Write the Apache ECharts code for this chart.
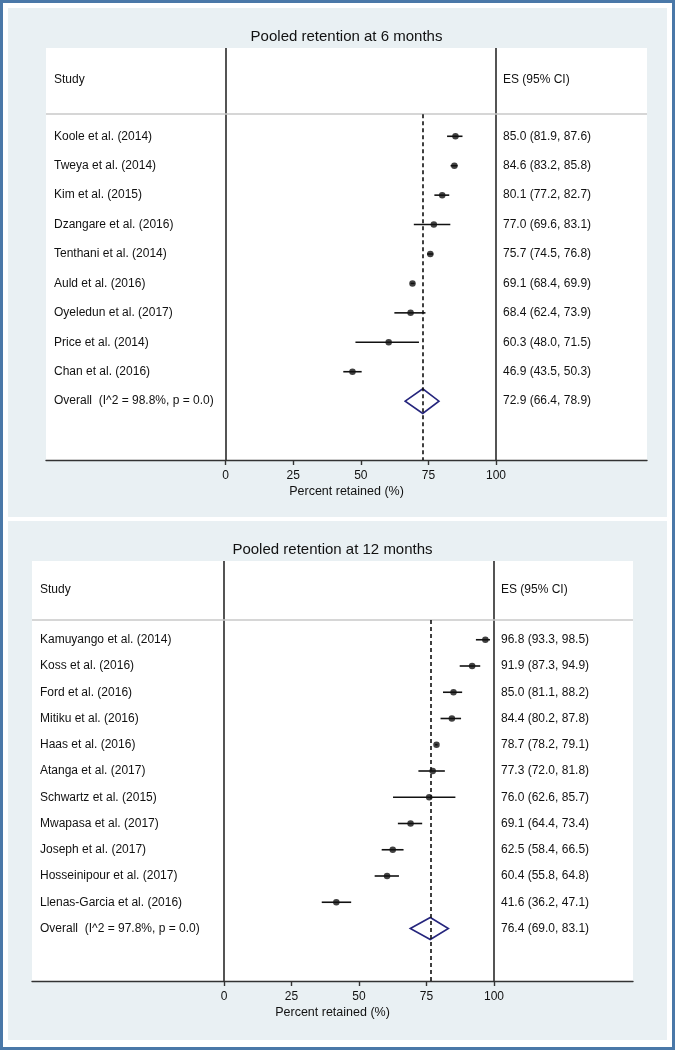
<!DOCTYPE html>
<html>
<head>
<meta charset="utf-8">
<script src="https://cdn.jsdelivr.net/npm/echarts@6/dist/echarts.min.js"></script>
<style>
  html, body { margin: 0; padding: 0; background: #fff; }
  #frame { position: absolute; left: 0; top: 0; width: 675px; height: 1050px; box-sizing: border-box; border: 3px solid #4a78a8; background: #fff; }
  .panel { position: absolute; left: 8px; width: 659px; background: #e9f0f3; }
  #p1 { top: 8px; height: 509px; }
  #p2 { top: 521px; height: 519px; }
  #chart { position: absolute; left: 0; top: 0; width: 675px; height: 1050px; }
</style>
</head>
<body>
<div id="frame"></div>
<div class="panel" id="p1"></div>
<div class="panel" id="p2"></div>
<div id="chart"></div>
<script>
// ---------- data: 6 months ----------
const title6 = 'Pooled retention at 6 months';
const studies6 = ['Koole et al. (2014)', 'Tweya et al. (2014)', 'Kim et al. (2015)', 'Dzangare et al. (2016)',
  'Tenthani et al. (2014)', 'Auld et al. (2016)', 'Oyeledun et al. (2017)', 'Price et al. (2014)', 'Chan et al. (2016)'];
const es6 = [85.0, 84.6, 80.1, 77.0, 75.7, 69.1, 68.4, 60.3, 46.9];
const lo6 = [81.9, 83.2, 77.2, 69.6, 74.5, 68.4, 62.4, 48.0, 43.5];
const hi6 = [87.6, 85.8, 82.7, 83.1, 76.8, 69.9, 73.9, 71.5, 50.3];
const overallLabel6 = 'Overall  (I^2 = 98.8%, p = 0.0)';
const overall6 = [72.9, 66.4, 78.9]; // es, lo, hi

// ---------- data: 12 months ----------
const title12 = 'Pooled retention at 12 months';
const studies12 = ['Kamuyango et al. (2014)', 'Koss et al. (2016)', 'Ford et al. (2016)', 'Mitiku et al. (2016)',
  'Haas et al. (2016)', 'Atanga et al. (2017)', 'Schwartz et al. (2015)', 'Mwapasa et al. (2017)',
  'Joseph et al. (2017)', 'Hosseinipour et al. (2017)', 'Llenas-Garcia et al. (2016)'];
const es12 = [96.8, 91.9, 85.0, 84.4, 78.7, 77.3, 76.0, 69.1, 62.5, 60.4, 41.6];
const lo12 = [93.3, 87.3, 81.1, 80.2, 78.2, 72.0, 62.6, 64.4, 58.4, 55.8, 36.2];
const hi12 = [98.5, 94.9, 88.2, 87.8, 79.1, 81.8, 85.7, 73.4, 66.5, 64.8, 47.1];
const overallLabel12 = 'Overall  (I^2 = 97.8%, p = 0.0)';
const overall12 = [76.4, 69.0, 83.1];

// ---------- shared text ----------
const tickValues = [0, 25, 50, 75, 100];
const xTitle = 'Percent retained (%)';
const headStudy = 'Study';
const headES = 'ES (95% CI)';

const FONT = '"Liberation Sans", Arial, Helvetica, sans-serif';
const TXT = '#111111';

function fmt(v) { return v.toFixed(1); }

const option = { animation: false, grid: [], xAxis: [], yAxis: [], series: [], graphic: [] };

function addPanel(idx, layout, title, studies, es, lo, hi, overallLabel, overall) {
  const n = studies.length + 1;           // rows incl. overall
  const scale = (layout.x100 - layout.x0) / 100;
  const xmin = -(layout.x0 - layout.left) / scale;
  const xmax = xmin + layout.width / scale;
  const yTop = -2, yBot = n + 2;

  option.grid.push({ left: layout.left, top: layout.top, width: layout.width, height: layout.height,
    show: true, backgroundColor: '#ffffff', borderWidth: 0 });
  option.xAxis.push({
    gridIndex: idx, type: 'value', min: xmin, max: xmax,
    axisLine: { show: true, onZero: false, lineStyle: { color: '#333', width: 1.4 } },
    axisTick: { show: true, customValues: tickValues, length: 5, lineStyle: { color: '#333', width: 1.4 } },
    axisLabel: { customValues: tickValues, color: TXT, fontSize: 12, fontFamily: FONT, margin: 10 },
    splitLine: { show: false },
    name: xTitle, nameLocation: 'middle', nameGap: 25,
    nameTextStyle: { color: TXT, fontSize: 12.5, fontFamily: FONT }
  });
  option.yAxis.push({ gridIndex: idx, type: 'value', inverse: true, min: yTop, max: yBot, show: false });

  const labels = studies.concat([overallLabel]);
  const esAll = es.concat([overall[0]]);
  const loAll = lo.concat([overall[1]]);
  const hiAll = hi.concat([overall[2]]);

  // text columns (header + rows)
  const textRows = [-0.92].concat(labels.map((_, i) => i + 1));
  option.series.push({
    type: 'custom', xAxisIndex: idx, yAxisIndex: idx, silent: true,
    data: textRows.map(r => [0, r]),
    renderItem: function (params, api) {
      const i = params.dataIndex;
      const y = api.coord([0, api.value(1)])[1];
      const xr = api.coord([100, api.value(1)])[0];
      const left = i === 0 ? headStudy : labels[i - 1];
      const right = i === 0 ? headES : (fmt(esAll[i - 1]) + ' (' + fmt(loAll[i - 1]) + ', ' + fmt(hiAll[i - 1]) + ')');
      const st = { fill: TXT, fontSize: 12, fontFamily: FONT, verticalAlign: 'middle', align: 'left' };
      return { type: 'group', children: [
        { type: 'text', style: Object.assign({ text: left, x: params.coordSys.x + 8, y: y }, st) },
        { type: 'text', style: Object.assign({ text: right, x: xr + 7, y: y }, st) }
      ] };
    }
  });

  // CI lines
  option.series.push({
    type: 'custom', xAxisIndex: idx, yAxisIndex: idx, silent: true,
    data: studies.map((_, i) => [lo[i], hi[i], i + 1]),
    renderItem: function (params, api) {
      const a = api.coord([api.value(0), api.value(2)]);
      const b = api.coord([api.value(1), api.value(2)]);
      return { type: 'line', shape: { x1: a[0], y1: a[1], x2: b[0], y2: b[1] },
        style: { stroke: '#111', lineWidth: 1.6 } };
    }
  });

  // diamond for overall
  option.series.push({
    type: 'custom', xAxisIndex: idx, yAxisIndex: idx, silent: true,
    data: [[overall[0], overall[1], overall[2], n]],
    renderItem: function (params, api) {
      const e = api.value(0), l = api.value(1), h = api.value(2), r = api.value(3);
      const pts = [api.coord([l, r]), api.coord([e, r - 0.42]), api.coord([h, r]), api.coord([e, r + 0.42])];
      return { type: 'polygon', shape: { points: pts },
        style: { fill: 'none', stroke: '#25257d', lineWidth: 1.6 } };
    }
  });

  // point estimates + reference lines
  option.series.push({
    type: 'scatter', xAxisIndex: idx, yAxisIndex: idx, silent: true,
    symbol: 'circle', symbolSize: 6.5, itemStyle: { color: '#111' },
    data: es.map((v, i) => [v, i + 1]),
    markLine: {
      silent: true, symbol: 'none', label: { show: false },
      data: [
        { xAxis: 0, lineStyle: { color: '#2a2a2a', width: 1.6, type: 'solid' } },
        { xAxis: 100, lineStyle: { color: '#2a2a2a', width: 1.6, type: 'solid' } },
        { yAxis: 0.25, lineStyle: { color: '#c8c8c8', width: 1.5, type: 'solid' } },
        [{ coord: [overall[0], 0.25], lineStyle: { color: '#111', width: 1.6, type: [4, 3] } },
         { coord: [overall[0], yBot] }]
      ]
    }
  });

  option.graphic.push({
    type: 'text', silent: true,
    style: { text: title, x: layout.left + layout.width / 2, y: layout.top - 11,
      align: 'center', verticalAlign: 'middle', fill: TXT, fontSize: 15, fontFamily: FONT }
  });
}

addPanel(0, { left: 46, top: 48, width: 601, height: 412, x0: 225.7, x100: 496 },
  title6, studies6, es6, lo6, hi6, overallLabel6, overall6);
addPanel(1, { left: 32, top: 561, width: 601, height: 420, x0: 224, x100: 494 },
  title12, studies12, es12, lo12, hi12, overallLabel12, overall12);

const chart = echarts.init(document.getElementById('chart'), null, { renderer: 'canvas' });
chart.setOption(option);
</script>
</body>
</html>
